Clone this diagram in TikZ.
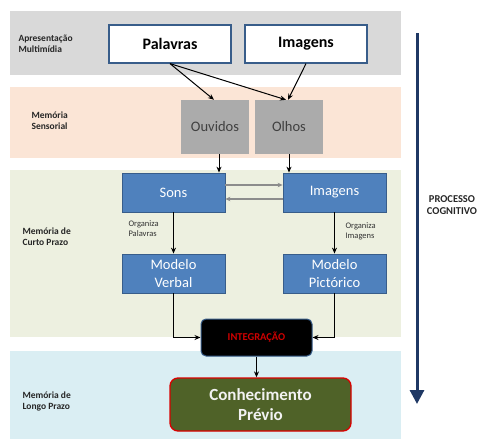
\documentclass[tikz,border=0pt]{standalone}
\usepackage{fontspec}
\setmainfont{Carlito}
\usetikzlibrary{arrows.meta}
\definecolor{bandA}{HTML}{D9D9D9}
\definecolor{bandB}{HTML}{FBE5D6}
\definecolor{bandC}{HTML}{EDF0E0}
\definecolor{bandD}{HTML}{DAEEF3}
\definecolor{sensfill}{HTML}{ABABAB}
\definecolor{bluefill}{HTML}{4F81BD}
\definecolor{blueline}{HTML}{385D8A}
\definecolor{olive}{HTML}{4F6228}
\definecolor{navy}{HTML}{1F3864}
\definecolor{redtxt}{HTML}{D00000}
\definecolor{grayarr}{HTML}{8C8C8C}
\begin{document}
\begin{tikzpicture}[x=1pt,y=-1pt,
  sidelabel/.style={font=\fontsize{9.5}{11}\selectfont\bfseries, align=left, anchor=west, text=black!85},
  whitebox/.style={draw=blueline, line width=1.2pt, fill=white, minimum width=122, minimum height=38, font=\fontsize{16}{18}\selectfont\bfseries, inner sep=0},
  sensbox/.style={fill=sensfill, minimum width=68, minimum height=54, font=\fontsize{14.5}{16}\selectfont, text=black!75, inner sep=0},
  bluebox/.style={draw=blueline, line width=0.8pt, fill=bluefill, minimum width=103, minimum height=39, font=\fontsize{14.5}{16}\selectfont, text=white, align=center, inner sep=0},
  arr/.style={draw=black, line width=1pt, -{Stealth[length=6pt,width=5pt]}},
  garr/.style={draw=grayarr, line width=1.1pt, -{Stealth[length=5pt,width=4.5pt]}},
  smalllab/.style={font=\fontsize{8.5}{10}\selectfont, align=left, anchor=west, text=black!80}
]
\useasboundingbox (0,0) rectangle (480,439);
% bands
\fill[bandA] (10,11) rectangle (401,75);
\fill[bandB] (10,87) rectangle (401,158);
\fill[bandC] (10,170) rectangle (401,337);
\fill[bandD] (10,351) rectangle (401,439);
% side labels
\node[sidelabel] (l1) at (15,44) {Apresentação\\Multimídia};
\node[sidelabel] (l2) at (28,121) {Memória\\Sensorial};
\node[sidelabel] (l3) at (19,237) {Memória de\\Curto Prazo};
\node[sidelabel] (l4) at (19,401) {Memória de\\Longo Prazo};
% top boxes
\node[whitebox] (pal) at (170,44) {Palavras};
\node[whitebox] (img) at (306,44) {Imagens};
% sensory
\node[sensbox] (ouv) at (215,127) {Ouvidos};
\node[sensbox] (olh) at (289,127) {Olhos};
% short-term
\node[bluebox] (sons) at (173.5,192.5) {Sons};
\node[bluebox] (img2) at (334.5,192.5) {Imagens};
\node[bluebox, font=\fontsize{14.5}{18}\selectfont] (mv) at (173.5,273.5) {Modelo\\Verbal};
\node[bluebox, font=\fontsize{14.5}{18}\selectfont] (mp) at (334.5,273.5) {Modelo\\Pictórico};
\node[smalllab] (op) at (125,229) {Organiza\\Palavras};
\node[smalllab] (oi) at (342,231) {Organiza\\Imagens};
% integration
\node[draw=blueline, line width=1pt, fill=black, rounded corners=5pt, minimum width=111, minimum height=37, inner sep=0, text=redtxt, font=\fontsize{10.5}{12}\selectfont\bfseries] (integ) at (256.5,337.5) {INTEGRAÇÃO};
% long-term
\node[draw=red!85!black, line width=1.3pt, fill=olive, rounded corners=8pt, minimum width=181, minimum height=53, inner sep=0, text=white!95!black, align=center, font=\fontsize{17}{20}\selectfont\bfseries] (conh) at (260.5,404.5) {Conhecimento\\Prévio};
% connectors
\draw[arr] (pal.south) -- ([xshift=-1pt]ouv.north);
\draw[arr] (pal.south) -- ([xshift=-3pt]olh.north);
\draw[arr] (img.south) -- ([xshift=-1pt]olh.north);
\draw[arr] ([xshift=4pt]ouv.south) -- ([xshift=4pt]ouv.south |- sons.north);
\draw[arr] (olh.south) -- (olh.south |- img2.north);
\draw[garr] ([yshift=7.5pt]sons.east) -- ([yshift=7.5pt]img2.west);
\draw[garr] ([yshift=-6.5pt]img2.west) -- ([yshift=-6.5pt]sons.east);
\draw[arr] (sons.south) -- (mv.north);
\draw[arr] (img2.south) -- (mp.north);
\draw[arr] (mv.south) |- (integ.west);
\draw[arr] (mp.south) |- (integ.east);
\draw[arr] (integ.south) -- (integ.south |- conh.north);
% process arrow
\coordinate (pcTop) at (417,33);
\coordinate (pcBot) at (417,404);
\draw[navy, line width=3pt, -{Triangle[length=14pt,width=14pt]}] (pcTop) -- (pcBot);
\node[font=\fontsize{10.5}{12}\selectfont\bfseries, align=center, text=black!85] (pc) at (452,205) {PROCESSO\\COGNITIVO};
\end{tikzpicture}
\end{document}
